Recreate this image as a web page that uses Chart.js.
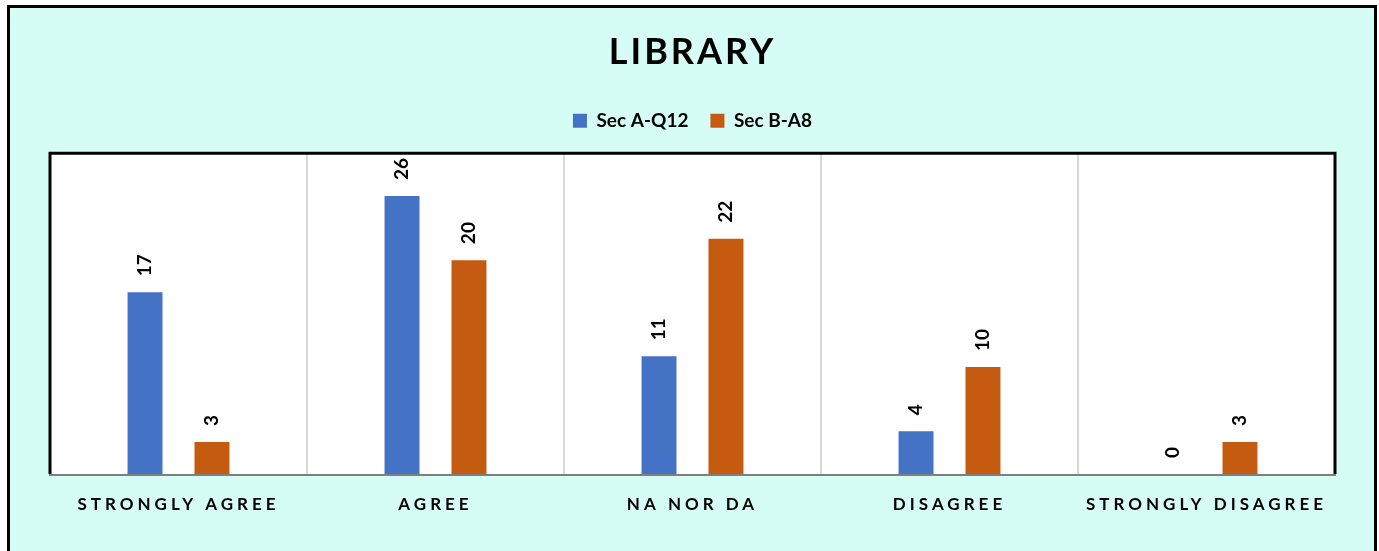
<!DOCTYPE html>
<html>
<head>
<meta charset="utf-8">
<script src="https://cdn.jsdelivr.net/npm/chart.js@4.4.1/dist/chart.umd.min.js"></script>
<style>
  html, body { margin: 0; padding: 0; background: #ffffff; overflow: hidden; }
  #frame {
    position: absolute; left: 7px; top: 5px;
    width: 1364px; height: 600px;
    border: 3px solid #000000;
    background: #d6fdf5;
  }
  #wrap { position: absolute; left: 0; top: 0; width: 1379px; height: 551px; }
</style>
</head>
<body>
<div id="frame"></div>
<div id="wrap"><canvas id="chart" width="1379" height="551"></canvas></div>
<script>
// data
const categories = ["STRONGLY AGREE", "AGREE", "NA NOR DA", "DISAGREE", "STRONGLY DISAGREE"];
const secA = [17, 26, 11, 4, 0];
const secB = [3, 20, 22, 10, 3];
const seriesNames = ["Sec A-Q12", "Sec B-A8"];

const FONT = "Lato, 'Open Sans', sans-serif";

// extra room under the legend
const legendGap = {
  id: "legendGap",
  beforeInit(chart) {
    const lg = chart.legend;
    const origFit = lg.fit;
    lg.fit = function () {
      origFit.call(this);
      this.height += 13;
    };
  }
};

// white plot area + its frame
const plotFrame = {
  id: "plotFrame",
  beforeDraw(chart) {
    const { ctx, chartArea: a } = chart;
    ctx.save();
    ctx.fillStyle = "#ffffff";
    ctx.fillRect(a.left, a.top, a.right - a.left, a.bottom - a.top);
    ctx.restore();

    // spaced-out text for x labels and title
    const sx = chart.scales.x;
    if (!sx._spaced) {
      const orig = sx.drawLabels;
      sx.drawLabels = function (area) {
        this.ctx.save();
        this.ctx.letterSpacing = "4px";
        orig.call(this, area);
        this.ctx.restore();
      };
      sx._spaced = true;
    }
    const tb = chart.titleBlock;
    if (tb && !tb._spaced) {
      const origT = tb.draw;
      tb.draw = function () {
        this.ctx.save();
        this.ctx.letterSpacing = "3px";
        origT.apply(this, arguments);
        this.ctx.restore();
      };
      tb._spaced = true;
    }
  },
  afterDraw(chart) {
    const { ctx, chartArea: a } = chart;
    ctx.save();
    ctx.strokeStyle = "#000000";
    ctx.lineWidth = 3;
    ctx.beginPath();
    ctx.moveTo(a.left, a.bottom);
    ctx.lineTo(a.left, a.top);
    ctx.lineTo(a.right, a.top);
    ctx.lineTo(a.right, a.bottom);
    ctx.stroke();
    ctx.strokeStyle = "#7f7f7f";
    ctx.lineWidth = 2;
    ctx.beginPath();
    ctx.moveTo(a.left - 1, a.bottom + 1);
    ctx.lineTo(a.right + 1, a.bottom + 1);
    ctx.stroke();
    ctx.restore();
  }
};

// rotated value labels above each bar
const valueLabels = {
  id: "valueLabels",
  afterDatasetsDraw(chart) {
    const ctx = chart.ctx;
    ctx.save();
    ctx.fillStyle = "#000000";
    ctx.font = "bold 19px " + FONT;
    ctx.textAlign = "left";
    ctx.textBaseline = "middle";
    chart.data.datasets.forEach((ds, i) => {
      chart.getDatasetMeta(i).data.forEach((bar, j) => {
        ctx.save();
        ctx.translate(bar.x, bar.y - 16);
        ctx.rotate(-Math.PI / 2);
        ctx.fillText(String(ds.data[j]), 0, 0);
        ctx.restore();
      });
    });
    ctx.restore();
  }
};

new Chart(document.getElementById("chart"), {
  type: "bar",
  data: {
    labels: categories,
    datasets: [
      { label: seriesNames[0], data: secA, backgroundColor: "#4472c4" },
      { label: seriesNames[1], data: secB, backgroundColor: "#c55a11" }
    ]
  },
  options: {
    responsive: false,
    animation: false,
    devicePixelRatio: 1,
    layout: { padding: { top: 0, left: 50, right: 44, bottom: 0 } },
    datasets: { bar: { categoryPercentage: 0.521, barPercentage: 0.522 } },
    plugins: {
      title: {
        display: true,
        text: "LIBRARY",
        color: "#000000",
        font: { family: FONT, size: 36, weight: "bold" },
        padding: { top: 31, bottom: 15 }
      },
      legend: {
        display: true,
        labels: {
          color: "#000000",
          font: { family: FONT, size: 19, weight: "bold" },
          boxWidth: 14,
          boxHeight: 14,
          padding: 22
        }
      },
      tooltip: { enabled: false }
    },
    scales: {
      x: {
        grid: { display: true, offset: true, color: "#d9d9d9", lineWidth: 2, drawTicks: false },
        border: { display: false },
        ticks: {
          color: "#000000",
          font: { family: FONT, size: 17, weight: "bold" },
          padding: 20,
          maxRotation: 0,
          autoSkip: false
        },
        afterFit(scale) { scale.height = 77; }
      },
      y: {
        display: false,
        min: 0,
        max: 30
      }
    }
  },
  plugins: [legendGap, plotFrame, valueLabels]
});
</script>
</body>
</html>
